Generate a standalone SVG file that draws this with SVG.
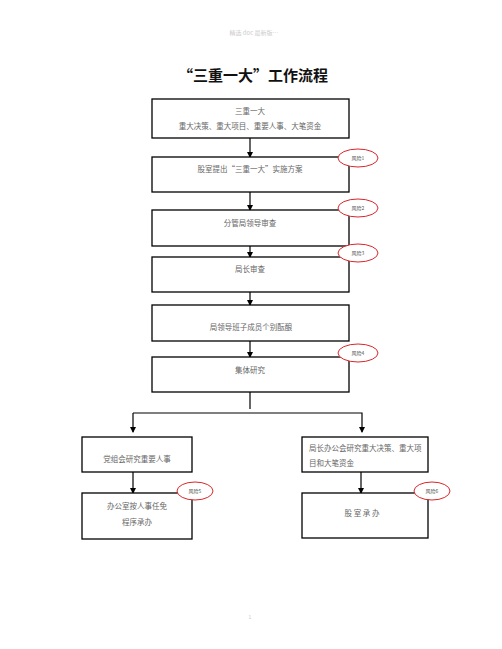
<svg xmlns="http://www.w3.org/2000/svg" width="502" height="649" viewBox="0 0 502 649">
<style>
.box{fill:#fff;stroke:#000;stroke-width:1.3}
.t{font-family:"Noto Sans CJK SC","Noto Sans CJK JP",sans-serif;font-size:7.5px;fill:#666}
.c{text-anchor:middle}
.risk{fill:#fff;stroke:#d9262b;stroke-width:1}
.rt{font-family:"Noto Sans CJK SC",sans-serif;font-size:5px;fill:#555;text-anchor:middle}
.ln{stroke:#000;stroke-width:1.2;fill:none}
</style>
<defs>
<marker id="ah" markerWidth="6" markerHeight="6" refX="5" refY="3" orient="auto" markerUnits="userSpaceOnUse">
<path d="M0,0 L6,3 L0,6 z" fill="#000"/>
</marker>
</defs>
<rect width="502" height="649" fill="#fff"/>
<text x="254" y="35" font-family="Noto Sans CJK SC,sans-serif" font-size="6" fill="#ccc" text-anchor="middle">精选 doc 最新版…</text>
<text x="253" y="81" font-family="Noto Sans CJK SC,sans-serif" font-size="15" font-weight="bold" fill="#111" text-anchor="middle">“三重一大”工作流程</text>

<g id="connectors">
<line class="ln" x1="250" y1="138" x2="250" y2="157" marker-end="url(#ah)"/>
<line class="ln" x1="250" y1="192" x2="250" y2="210" marker-end="url(#ah)"/>
<line class="ln" x1="250" y1="246" x2="250" y2="257" marker-end="url(#ah)"/>
<line class="ln" x1="250" y1="292" x2="250" y2="305" marker-end="url(#ah)"/>
<line class="ln" x1="250" y1="341" x2="250" y2="357" marker-end="url(#ah)"/>
<line class="ln" x1="250" y1="392" x2="250" y2="409"/>
<polyline class="ln" points="133,413 362,413 362,432" marker-end="url(#ah)"/>
<line class="ln" x1="133" y1="413" x2="133" y2="432" marker-end="url(#ah)"/>
<line class="ln" x1="133" y1="472" x2="133" y2="493" marker-end="url(#ah)"/>
<line class="ln" x1="361" y1="472" x2="361" y2="493" marker-end="url(#ah)"/>
</g>

<g id="n1"><rect class="box" x="152" y="99" width="197" height="39"/>
<text class="t c" x="250" y="114">三重一大</text>
<text class="t c" x="250" y="129">重大决策、重大项目、重要人事、大笔资金</text></g>

<g id="n2"><rect class="box" x="152" y="157" width="197" height="35"/>
<text class="t c" x="250" y="172">股室提出“三重一大”实施方案</text></g>

<g id="n3"><rect class="box" x="152" y="210" width="197" height="36"/>
<text class="t c" x="250" y="226">分管局领导审查</text></g>

<g id="n4"><rect class="box" x="152" y="257" width="197" height="35"/>
<text class="t c" x="250" y="272">局长审查</text></g>

<g id="n5"><rect class="box" x="152" y="305" width="197" height="36"/>
<text class="t c" x="251" y="330">局领导班子成员个别酝酿</text></g>

<g id="n6"><rect class="box" x="152" y="357" width="197" height="35"/>
<text class="t c" x="250" y="373">集体研究</text></g>

<g id="n7"><rect class="box" x="82" y="437" width="110" height="35"/>
<text class="t c" x="137" y="462">党组会研究重要人事</text></g>

<g id="n8"><rect class="box" x="302" y="437" width="126" height="35"/>
<text class="t" x="309" y="451">局长办公会研究重大决策、重大项</text>
<text class="t" x="309" y="466">目和大笔资金</text></g>

<g id="n9"><rect class="box" x="82" y="493" width="110" height="46"/>
<text class="t c" x="137" y="509">办公室按人事任免</text>
<text class="t c" x="137" y="525">程序承办</text></g>

<g id="n10"><rect class="box" x="302" y="493" width="126" height="45"/>
<text class="t c" x="362" y="516">股 室 承 办</text></g>

<g id="r1"><ellipse class="risk" cx="358" cy="158" rx="20" ry="9"/><text class="rt" x="358" y="160">风险1</text></g>
<g id="r2"><ellipse class="risk" cx="358" cy="208" rx="20" ry="9"/><text class="rt" x="358" y="210">风险2</text></g>
<g id="r3"><ellipse class="risk" cx="358" cy="253" rx="20" ry="9"/><text class="rt" x="358" y="255">风险3</text></g>
<g id="r4"><ellipse class="risk" cx="358" cy="353" rx="20" ry="9"/><text class="rt" x="358" y="355">风险4</text></g>
<g id="r5"><ellipse class="risk" cx="195" cy="491" rx="18" ry="9"/><text class="rt" x="195" y="493">风险5</text></g>
<g id="r6"><ellipse class="risk" cx="432" cy="491" rx="18" ry="9"/><text class="rt" x="432" y="493">风险6</text></g>

<text x="250" y="619" font-family="Liberation Sans,sans-serif" font-size="5" fill="#ccc" text-anchor="middle">1</text>
</svg>
